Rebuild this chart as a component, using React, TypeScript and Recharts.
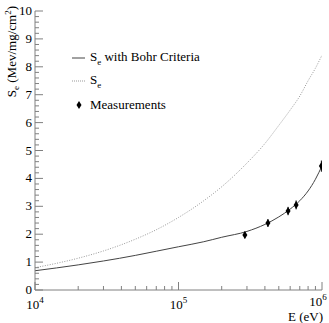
import React from "react";
import {
  ComposedChart,
  Line,
  Scatter,
  ErrorBar,
  XAxis,
  YAxis,
  Legend,
} from "recharts";

if (typeof document !== "undefined") document.body.style.margin = "0";

// S_e with Bohr criteria (solid)
const bohrE = [1e4, 2e4, 3e4, 5e4, 7e4, 1e5, 1.5e5, 2e5, 3e5, 4e5, 5e5, 6e5, 7e5, 8e5, 9e5, 1e6];
const bohrS = [0.69, 0.9, 1.04, 1.24, 1.39, 1.55, 1.73, 1.89, 2.1, 2.35, 2.62, 2.9, 3.2, 3.55, 3.97, 4.45];

// plain S_e (dotted)
const seE = [1e4, 2e4, 3e4, 5e4, 7e4, 1e5, 1.5e5, 2e5, 3e5, 4e5, 5e5, 6e5, 7e5, 8e5, 9e5, 1e6];
const seS = [0.8, 1.14, 1.4, 1.82, 2.16, 2.6, 3.2, 3.7, 4.55, 5.25, 5.9, 6.45, 6.95, 7.5, 7.95, 8.42];

// measurements
const measE = [2.9e5, 4.2e5, 5.8e5, 6.6e5, 9.9e5];
const measS = [1.97, 2.4, 2.83, 3.05, 4.44];
const measErr = [0.12, 0.14, 0.15, 0.16, 0.2];

const xMajor = [1e4, 1e5, 1e6];
const xMinor = [2e4, 3e4, 4e4, 5e4, 6e4, 7e4, 8e4, 9e4, 2e5, 3e5, 4e5, 5e5, 6e5, 7e5, 8e5, 9e5];
const yMajor = [0, 1, 2, 3, 4, 5, 6, 7, 8, 9, 10];

const yTicks: number[] = [];
for (let i = 0; i <= 50; i++) yTicks.push(Math.round(i * 2) / 10);

const bohrData = bohrE.map((e, i) => ({ e, s: bohrS[i] }));
const seData = seE.map((e, i) => ({ e, s: seS[i] }));
const measData = measE.map((e, i) => ({ e, s: measS[i], err: measErr[i] }));

const FONT = "Liberation Serif, Times New Roman, serif";
const AXIS = "#808080";

function XTick(props: any) {
  const { x, y, payload } = props;
  const v = payload.value;
  const major = xMajor.includes(v);
  const exp = Math.round(Math.log10(v));
  // last label sits left of the corner, a bit higher, as in ROOT
  const last = x > 300;
  return (
    <g>
      <line x1={x} x2={x} y1={y} y2={y - (major ? 8 : 4)} stroke={AXIS} strokeWidth={1} />
      {major && (
        <text
          x={last ? x - 4 : x}
          y={y + (last ? 16 : 19)}
          textAnchor="middle"
          fontFamily={FONT}
          fontSize={13}
          fill="#000"
        >
          10
          <tspan dy={-6} fontSize={9}>
            {exp}
          </tspan>
        </text>
      )}
    </g>
  );
}

function YTick(props: any) {
  const { x, y, payload } = props;
  const v = payload.value;
  const major = yMajor.includes(v);
  return (
    <g>
      <line x1={x} x2={x + (major ? 8 : 4)} y1={y} y2={y} stroke={AXIS} strokeWidth={1} />
      {major && (
        <text x={x - 3} y={y + 4} textAnchor="end" fontFamily={FONT} fontSize={13} fill="#000">
          {v}
        </text>
      )}
    </g>
  );
}

function Diamond(props: any) {
  const { cx, cy } = props;
  return (
    <polygon
      points={`${cx},${cy - 4} ${cx + 2.5},${cy} ${cx},${cy + 4} ${cx - 2.5},${cy}`}
      fill="#000"
    />
  );
}

function LegendBox() {
  const row: React.CSSProperties = {
    display: "flex",
    alignItems: "center",
    height: 23.5,
    fontFamily: FONT,
    fontSize: 13,
    color: "#000",
    whiteSpace: "nowrap",
  };
  return (
    <div>
      <div style={row}>
        <svg width={15} height={10} style={{ marginRight: 3 }}>
          <line x1={0} x2={13} y1={5} y2={5} stroke="#444" strokeWidth={1} />
        </svg>
        <span>
          S<sub style={{ fontSize: 9 }}>e</sub> with Bohr Criteria
        </span>
      </div>
      <div style={row}>
        <svg width={15} height={10} style={{ marginRight: 3 }}>
          <line x1={0} x2={13} y1={5} y2={5} stroke="#999" strokeWidth={1} strokeDasharray="1 1" />
        </svg>
        <span>
          S<sub style={{ fontSize: 9 }}>e</sub>
        </span>
      </div>
      <div style={row}>
        <svg width={15} height={10} style={{ marginRight: 3 }}>
          <polygon points="7,1 9.5,5 7,9 4.5,5" fill="#000" />
        </svg>
        <span>Measurements</span>
      </div>
    </div>
  );
}

function YLabel() {
  return (
    <text
      transform="translate(16,6) rotate(-90)"
      textAnchor="end"
      fontFamily={FONT}
      fontSize={13}
      fill="#000"
    >
      S<tspan dy={3} fontSize={9}>e</tspan>
      <tspan dy={-3}> (Mev/mg/cm</tspan>
      <tspan dy={-5} fontSize={9}>2</tspan>
      <tspan dy={5}>)</tspan>
    </text>
  );
}

function XLabel() {
  return (
    <text x={323} y={321} textAnchor="end" fontFamily={FONT} fontSize={13} fill="#000">
      E (eV)
    </text>
  );
}

export default function App() {
  return (
    <ComposedChart
      width={329}
      height={323}
      margin={{ top: 11, right: 7, bottom: 0, left: 0 }}
      style={{ background: "#fff" }}
    >
      <XAxis
        xAxisId="b"
        dataKey="e"
        type="number"
        scale="log"
        domain={[1e4, 1e6]}
        allowDataOverflow
        ticks={[...xMajor, ...xMinor]}
        interval={0}
        tick={<XTick />}
        tickLine={false}
        tickSize={0}
        tickMargin={0}
        axisLine={{ stroke: AXIS }}
        height={33}
        label={{ content: <XLabel /> }}
      />
      <XAxis
        xAxisId="t"
        orientation="top"
        dataKey="e"
        type="number"
        scale="log"
        domain={[1e4, 1e6]}
        allowDataOverflow
        tick={false}
        tickLine={false}
        axisLine={{ stroke: AXIS }}
        height={0}
      />
      <YAxis
        yAxisId="l"
        dataKey="s"
        type="number"
        domain={[0, 10]}
        allowDataOverflow
        ticks={yTicks}
        interval={0}
        tick={<YTick />}
        tickLine={false}
        tickSize={0}
        tickMargin={0}
        axisLine={{ stroke: AXIS }}
        width={35}
        label={{ content: <YLabel /> }}
      />
      <YAxis
        yAxisId="r"
        orientation="right"
        dataKey="s"
        type="number"
        domain={[0, 10]}
        allowDataOverflow
        tick={false}
        tickLine={false}
        axisLine={{ stroke: AXIS }}
        width={0}
      />
      <Line
        xAxisId="b"
        yAxisId="l"
        data={seData}
        dataKey="s"
        type="monotone"
        stroke="#999"
        strokeWidth={1}
        strokeDasharray="1 1.5"
        dot={false}
        isAnimationActive={false}
      />
      <Line
        xAxisId="b"
        yAxisId="l"
        data={bohrData}
        dataKey="s"
        type="monotone"
        stroke="#444"
        strokeWidth={1}
        dot={false}
        isAnimationActive={false}
      />
      <Scatter
        xAxisId="b"
        yAxisId="l"
        data={measData}
        dataKey="s"
        shape={<Diamond />}
        isAnimationActive={false}
      >
        <ErrorBar dataKey="err" direction="y" width={0} stroke="#000" strokeWidth={1} />
      </Scatter>
      <Legend
        content={<LegendBox />}
        layout="vertical"
        verticalAlign="middle"
        align="center"
        wrapperStyle={{ left: 72, top: 46, width: 160 }}
      />
    </ComposedChart>
  );
}
